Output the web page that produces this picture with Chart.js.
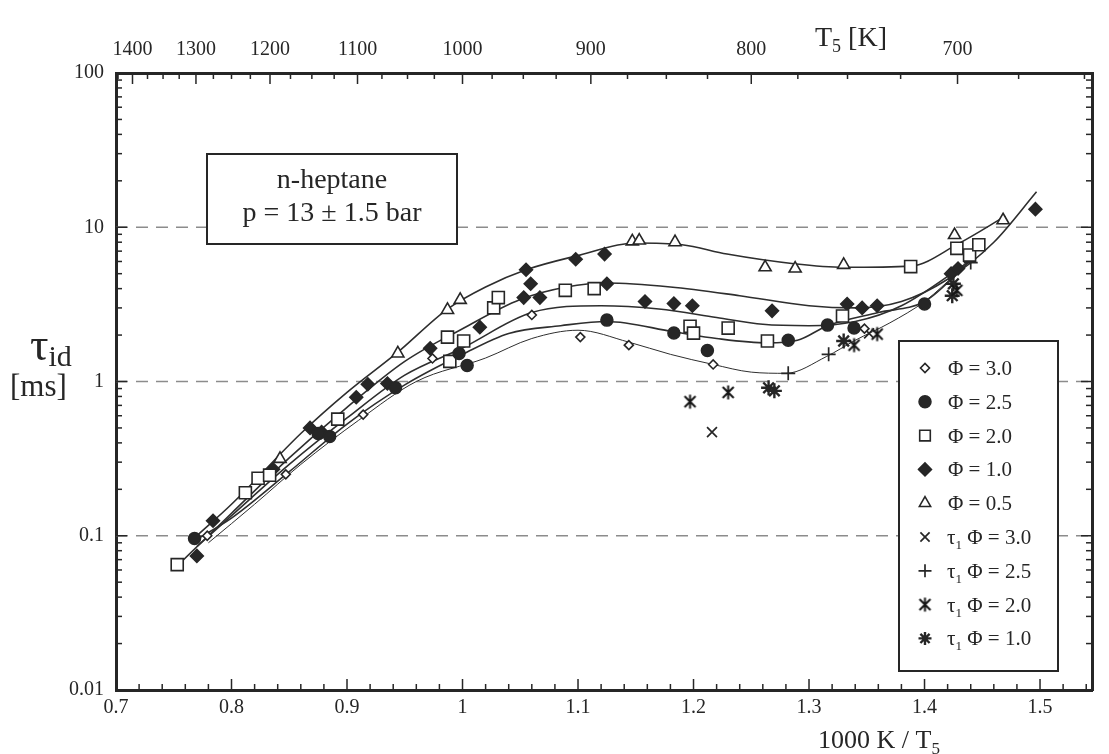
<!DOCTYPE html>
<html>
<head>
<meta charset="utf-8">
<script src="https://cdn.jsdelivr.net/npm/chart.js@4.4.1/dist/chart.umd.min.js"></script>
<style>
  html, body { margin: 0; padding: 0; background: #fff; }
  #wrap { width: 1109px; height: 754px; }
</style>
</head>
<body>
<div id="wrap"><canvas id="ignitionChart"></canvas></div>
<script>
// tick labels
const xTickValues = [0.7, 0.8, 0.9, 1.0, 1.1, 1.2, 1.3, 1.4, 1.5];
const topTempLabels = [1400, 1300, 1200, 1100, 1000, 900, 800, 700];
const yTickValues = [0.01, 0.1, 1, 10, 100];
const dashedLevels = [0.1, 1, 10];

// measured ignition delays (1000 K / T5, ms)
const phi30X = [0.779, 0.847, 0.914, 0.974, 1.060, 1.102, 1.144, 1.217, 1.348];
const phi30Y = [0.10, 0.25, 0.61, 1.41, 2.7, 1.94, 1.72, 1.29, 2.2];

const phi25X = [0.768, 0.875, 0.885, 0.942, 0.997, 1.004, 1.125, 1.183, 1.212, 1.282, 1.316, 1.339, 1.400];
const phi25Y = [0.096, 0.46, 0.44, 0.91, 1.52, 1.27, 2.5, 2.06, 1.59, 1.85, 2.32, 2.22, 3.18];

const phi20X = [0.753, 0.812, 0.823, 0.833, 0.892, 0.987, 0.989, 1.001, 1.027, 1.031, 1.089, 1.114, 1.197, 1.200, 1.230, 1.264, 1.329, 1.388, 1.428, 1.439, 1.447];
const phi20Y = [0.065, 0.19, 0.236, 0.247, 0.57, 1.94, 1.35, 1.83, 3.0, 3.5, 3.9, 4.0, 2.28, 2.06, 2.22, 1.83, 2.66, 5.56, 7.3, 6.6, 7.7];

const phi10X = [0.770, 0.784, 0.836, 0.868, 0.878, 0.908, 0.918, 0.935, 0.972, 1.015, 1.053, 1.055, 1.059, 1.067, 1.098, 1.123, 1.125, 1.158, 1.183, 1.199, 1.268, 1.333, 1.346, 1.359, 1.423, 1.429, 1.496];
const phi10Y = [0.074, 0.125, 0.27, 0.50, 0.47, 0.79, 0.96, 0.97, 1.64, 2.25, 3.5, 5.3, 4.3, 3.5, 6.2, 6.7, 4.3, 3.3, 3.2, 3.1, 2.87, 3.18, 3.0, 3.1, 5.0, 5.4, 13.1];

const phi05X = [0.842, 0.944, 0.987, 0.998, 1.147, 1.153, 1.184, 1.262, 1.288, 1.330, 1.426, 1.468];
const phi05Y = [0.315, 1.52, 2.91, 3.38, 8.1, 8.2, 8.0, 5.5, 5.4, 5.7, 8.9, 11.1];

const tau30X = [1.216, 1.352];
const tau30Y = [0.47, 2.05];
const tau25X = [1.282, 1.317, 1.440];
const tau25Y = [1.13, 1.50, 5.9];
const tau20X = [1.197, 1.230, 1.339, 1.359, 1.428];
const tau20Y = [0.74, 0.85, 1.72, 2.03, 3.9];
const tau10X = [1.265, 1.270, 1.330, 1.424, 1.425];
const tau10Y = [0.91, 0.87, 1.83, 3.6, 4.3];

// fitted curves
const curveAX = [0.77, 0.80, 0.86, 0.90, 0.944, 0.987, 1.02, 1.055, 1.098, 1.15, 1.19, 1.229, 1.287, 1.33, 1.388, 1.429, 1.47];
const curveAY = [0.10, 0.16, 0.46, 0.85, 1.55, 2.95, 4.1, 5.3, 6.5, 7.9, 7.7, 6.7, 5.8, 5.5, 5.6, 7.8, 11.8];
const curveBX = [0.755, 0.80, 0.85, 0.90, 0.95, 1.00, 1.05, 1.09, 1.125, 1.18, 1.24, 1.30, 1.34, 1.38, 1.42, 1.46, 1.497];
const curveBY = [0.066, 0.14, 0.32, 0.68, 1.35, 2.2, 3.4, 4.1, 4.35, 4.1, 3.6, 3.1, 3.0, 3.3, 4.6, 8.0, 17];
const curveCX = [0.77, 0.80, 0.85, 0.90, 0.95, 1.00, 1.06, 1.12, 1.17, 1.22, 1.26, 1.30, 1.34, 1.38, 1.44];
const curveCY = [0.085, 0.135, 0.29, 0.58, 1.1, 1.65, 2.8, 3.1, 2.95, 2.6, 2.35, 2.3, 2.45, 3.1, 6.1];
const curveDX = [0.77, 0.80, 0.85, 0.90, 0.95, 1.00, 1.04, 1.085, 1.125, 1.183, 1.22, 1.264, 1.29, 1.316, 1.36, 1.40, 1.44];
const curveDY = [0.095, 0.13, 0.26, 0.53, 0.95, 1.5, 2.05, 2.3, 2.45, 2.1, 1.9, 1.78, 1.85, 2.3, 2.8, 3.3, 6.1];
const curveEX = [0.78, 0.82, 0.86, 0.91, 0.96, 1.02, 1.06, 1.10, 1.144, 1.18, 1.217, 1.25, 1.28, 1.315, 1.34, 1.37, 1.40, 1.43];
const curveEY = [0.09, 0.16, 0.29, 0.56, 1.0, 1.42, 1.9, 2.15, 1.8, 1.5, 1.29, 1.15, 1.13, 1.45, 1.85, 2.4, 3.3, 5.2];

const serif = '"Liberation Serif", "Times New Roman", serif';
const ink = "#262626";

function pts(xs, ys) {
    return xs.map((x, i) => ({ x: x, y: ys[i] }));
}

function markerSet(label, xs, ys, style) {
    return Object.assign({
        label: label,
        data: pts(xs, ys),
        showLine: false,
        order: 1,
        borderColor: ink,
        backgroundColor: ink,
        borderWidth: 1.5,
    }, style);
}

function curveSet(xs, ys, width) {
    return {
        label: "",
        isCurve: true,
        data: pts(xs, ys),
        showLine: true,
        pointRadius: 0,
        pointHoverRadius: 0,
        borderColor: "#2e2e2e",
        borderWidth: width,
        cubicInterpolationMode: "monotone",
        order: 2,
    };
}

// x with a vertical bar, for the tau1 phi=2.0 points
function barredCross() {
    const c = document.createElement("canvas");
    c.width = 17;
    c.height = 17;
    const g = c.getContext("2d");
    g.strokeStyle = "#161616";
    g.lineWidth = 2;
    g.beginPath();
    g.moveTo(3, 3); g.lineTo(14, 14);
    g.moveTo(14, 3); g.lineTo(3, 14);
    g.moveTo(8.5, 1.5); g.lineTo(8.5, 15.5);
    g.stroke();
    return c;
}

const datasets = [
    curveSet(curveAX, curveAY, 1.6),
    curveSet(curveBX, curveBY, 1.6),
    curveSet(curveCX, curveCY, 1.6),
    curveSet(curveDX, curveDY, 1.6),
    curveSet(curveEX, curveEY, 1.0),
    markerSet("Φ = 3.0", phi30X, phi30Y, { pointStyle: "rectRot", pointRadius: 4.5, backgroundColor: "#fff", borderWidth: 1.6 }),
    markerSet("Φ = 2.5", phi25X, phi25Y, { pointStyle: "circle", pointRadius: 6 }),
    markerSet("Φ = 2.0", phi20X, phi20Y, { pointStyle: "rect", pointRadius: 8.5, backgroundColor: "#fff", borderWidth: 1.6 }),
    markerSet("Φ = 1.0", phi10X, phi10Y, { pointStyle: "rectRot", pointRadius: 6.5 }),
    markerSet("Φ = 0.5", phi05X, phi05Y, { pointStyle: "triangle", pointRadius: 7, backgroundColor: "#fff", borderWidth: 1.6 }),
    markerSet("τ1 Φ = 3.0", tau30X, tau30Y, { pointStyle: "crossRot", pointRadius: 7, borderWidth: 1.7 }),
    markerSet("τ1 Φ = 2.5", tau25X, tau25Y, { pointStyle: "cross", pointRadius: 7, borderWidth: 1.7 }),
    markerSet("τ1 Φ = 2.0", tau20X, tau20Y, { pointStyle: barredCross(), pointRadius: 8 }),
    markerSet("τ1 Φ = 1.0", tau10X, tau10Y, { pointStyle: "star", pointRadius: 7.5, borderWidth: 2.4 }),
];

function fmtX(v) {
    return String(Math.round(v * 10) / 10);
}

function tickLine(ctx, x1, y1, x2, y2) {
    ctx.beginPath();
    ctx.moveTo(x1, y1);
    ctx.lineTo(x2, y2);
    ctx.stroke();
}

const gridDashes = {
    id: "gridDashes",
    beforeDatasetsDraw(chart) {
        const { ctx, chartArea } = chart;
        const y = chart.scales.y;
        ctx.save();
        ctx.strokeStyle = "#8c8c8c";
        ctx.lineWidth = 1.4;
        ctx.setLineDash([12, 8]);
        dashedLevels.forEach((v) => {
            const py = y.getPixelForValue(v);
            tickLine(ctx, chartArea.left, py, chartArea.right, py);
        });
        ctx.restore();
    },
};

const frameTicks = {
    id: "frameTicks",
    afterDraw(chart) {
        const { ctx, chartArea } = chart;
        const x = chart.scales.x;
        const y = chart.scales.y;
        ctx.save();
        ctx.strokeStyle = ink;
        ctx.lineWidth = 1.5;
        // bottom: minor every 0.02
        for (let k = 35; k <= 77; k++) {
            const px = x.getPixelForValue(k * 0.02);
            const len = k % 5 === 0 ? 11 : 6;
            tickLine(ctx, px, chartArea.bottom, px, chartArea.bottom - len);
        }
        // top: temperature scale, minor every 25 K
        for (let t = 1425; t >= 650; t -= 25) {
            const px = x.getPixelForValue(1000 / t);
            if (px < chartArea.left + 2 || px > chartArea.right - 2) continue;
            const len = t % 100 === 0 ? 11 : 6;
            tickLine(ctx, px, chartArea.top, px, chartArea.top + len);
        }
        // left / right: log decades
        for (let e = -2; e <= 1; e++) {
            for (let m = 1; m <= 9; m++) {
                const py = y.getPixelForValue(m * Math.pow(10, e));
                const len = m === 1 ? 11 : 6;
                tickLine(ctx, chartArea.left, py, chartArea.left + len, py);
                tickLine(ctx, chartArea.right, py, chartArea.right - len, py);
            }
        }
        ctx.restore();
    },
};

function drawSub(ctx, parts, x, y) {
    // parts: [text, size, dy]
    let cx = x;
    parts.forEach(([text, size, dy]) => {
        ctx.font = size + "px " + serif;
        ctx.fillText(text, cx, y + dy);
        cx += ctx.measureText(text).width;
    });
}

const figureText = {
    id: "figureText",
    afterDraw(chart) {
        const ctx = chart.ctx;
        ctx.save();
        ctx.fillStyle = ink;
        ctx.textBaseline = "alphabetic";
        ctx.textAlign = "left";

        // axis titles
        drawSub(ctx, [["T", 28, 0], ["5", 18, 6], [" [K]", 28, 0]], 815, 46);
        drawSub(ctx, [["1000 K / T", 26, 0], ["5", 17, 6]], 818, 748);
        drawSub(ctx, [["τ", 46, 0], ["id", 30, 6]], 30, 360);
        drawSub(ctx, [["[ms]", 31, 0]], 10, 396);

        // annotation box
        ctx.strokeStyle = ink;
        ctx.lineWidth = 2;
        ctx.fillStyle = "#fff";
        ctx.fillRect(207, 154, 250, 90);
        ctx.strokeRect(207, 154, 250, 90);
        ctx.fillStyle = ink;
        ctx.textAlign = "center";
        ctx.font = "28px " + serif;
        ctx.fillText("n-heptane", 332, 188);
        ctx.fillText("p = 13 ± 1.5 bar", 332, 221);

        // legend
        ctx.textAlign = "left";
        ctx.fillStyle = "#fff";
        ctx.fillRect(899, 341, 159, 330);
        ctx.strokeRect(899, 341, 159, 330);
        const markers = chart.data.datasets.filter((d) => !d.isCurve);
        markers.forEach((d, i) => {
            const cy = 368 + i * 33.8;
            const r = d.pointStyle === "rect" ? 7.5 : Math.min(d.pointRadius, 6.5);
            ctx.save();
            ctx.fillStyle = d.backgroundColor;
            ctx.strokeStyle = d.borderColor;
            ctx.lineWidth = d.borderWidth;
            Chart.helpers.drawPoint(ctx, {
                pointStyle: d.pointStyle,
                radius: r,
                borderWidth: d.borderWidth,
                rotation: 0,
            }, 925, cy);
            ctx.restore();
            ctx.fillStyle = ink;
            if (d.label.startsWith("τ1")) {
                drawSub(ctx, [["τ", 21, 0], ["1", 13, 5], [d.label.slice(2), 21, 0]], 947, cy + 7);
            } else {
                drawSub(ctx, [[d.label, 21, 0]], 948, cy + 7);
            }
        });
        ctx.restore();
    },
};

const tickFont = { family: serif, size: 20 };

new Chart(document.getElementById("ignitionChart"), {
    type: "scatter",
    data: { datasets: datasets },
    options: {
        responsive: true,
        maintainAspectRatio: false,
        animation: false,
        events: [],
        layout: { padding: 0 },
        plugins: {
            legend: { display: false },
            tooltip: { enabled: false },
        },
        scales: {
            x: {
                type: "linear",
                position: "bottom",
                min: 0.7,
                max: 1.545,
                bounds: "data",
                afterBuildTicks: (s) => { s.ticks = xTickValues.map((v) => ({ value: v })); },
                afterFit: (s) => { s.height = 64; },
                ticks: { callback: (v) => fmtX(v), font: tickFont, color: ink, padding: 6, maxRotation: 0, autoSkip: false },
                grid: { display: false, drawTicks: false },
                border: { display: true, width: 3, color: ink },
            },
            x2: {
                type: "linear",
                position: "top",
                min: 0.7,
                max: 1.545,
                bounds: "data",
                afterBuildTicks: (s) => { s.ticks = topTempLabels.map((t) => ({ value: 1000 / t })); },
                afterFit: (s) => { s.height = 73; },
                ticks: { callback: (v) => String(Math.round(1000 / v)), font: tickFont, color: ink, padding: 11, maxRotation: 0, autoSkip: false },
                grid: { display: false, drawTicks: false },
                border: { display: true, width: 3, color: ink },
            },
            y: {
                type: "logarithmic",
                position: "left",
                min: 0.01,
                max: 100,
                bounds: "data",
                afterBuildTicks: (s) => { s.ticks = yTickValues.map((v) => ({ value: v })); },
                afterFit: (s) => { s.width = 116; },
                ticks: { callback: (v) => String(v), font: tickFont, color: ink, padding: 12, autoSkip: false },
                grid: { display: false, drawTicks: false },
                border: { display: true, width: 3, color: ink },
            },
            y2: {
                type: "logarithmic",
                position: "right",
                min: 0.01,
                max: 100,
                ticks: { display: false },
                afterFit: (s) => { s.width = 17; },
                grid: { display: false, drawTicks: false },
                border: { display: true, width: 3, color: ink },
            },
        },
    },
    plugins: [gridDashes, frameTicks, figureText],
});
</script>
</body>
</html>
